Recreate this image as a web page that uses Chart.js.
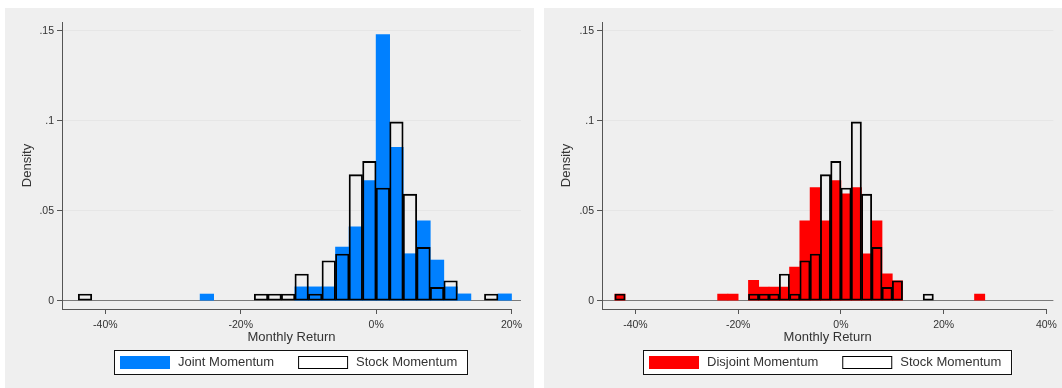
<!DOCTYPE html>
<html>
<head>
<meta charset="utf-8">
<script src="https://cdn.jsdelivr.net/npm/chart.js@4/dist/chart.umd.min.js"></script>
<style>
  html, body { margin: 0; padding: 0; background: #fff; }
  body { width: 1062px; height: 388px; position: relative; overflow: hidden; }
  .panel { position: absolute; top: 8px; height: 380px; background: #efefef; }
  #leftPanel { left: 5px; width: 529px; }
  #rightPanel { left: 544px; width: 518px; }
</style>
</head>
<body>
<div class="panel" id="leftPanel"><canvas id="chartJoint"></canvas></div>
<div class="panel" id="rightPanel"><canvas id="chartDisjoint"></canvas></div>
<script>
// 2% monthly-return bins, keyed by bin midpoint (%)
const binMids = [-43, -41, -39, -37, -35, -33, -31, -29, -27, -25, -23, -21, -19, -17, -15, -13, -11, -9,
                 -7, -5, -3, -1, 1, 3, 5, 7, 9, 11, 13, 15, 17, 19, 21, 23, 25, 27];

const jointDensity = [0, 0, 0, 0, 0, 0, 0, 0, 0, 0.0037, 0, 0, 0, 0, 0, 0, 0.0077, 0.0077,
                      0.0077, 0.0298, 0.0410, 0.0667, 0.1478, 0.0852, 0.0261, 0.0444, 0.0226, 0.0077, 0.0038, 0, 0, 0.0038, 0, 0, 0, 0];

const disjointDensity = [0.0037, 0, 0, 0, 0, 0, 0, 0, 0, 0, 0.0037, 0.0037, 0, 0.0113, 0.0076, 0.0076, 0.0076, 0.0187,
                         0.0444, 0.0628, 0.0444, 0.0667, 0.0593, 0.0628, 0.0261, 0.0444, 0.0150, 0.0111, 0, 0, 0, 0, 0, 0, 0, 0.0037];

const stockDensity = [0.0037, 0, 0, 0, 0, 0, 0, 0, 0, 0, 0, 0, 0, 0.0037, 0.0037, 0.0037, 0.0148, 0.0037,
                      0.0222, 0.0259, 0.0700, 0.0774, 0.0626, 0.0993, 0.0592, 0.0296, 0.0074, 0.0111, 0, 0, 0.0037, 0, 0, 0, 0, 0];

const xTickValues = [-40, -20, 0, 20, 40];
const xTickLabels = ['-40%', '-20%', '0%', '20%', '40%'];
const yTickValues = [0, 0.05, 0.1, 0.15];
const yTickLabels = ['0', '.05', '.1', '.15'];

const FONT = '"Liberation Sans", Arial, Helvetica, sans-serif';
const TEXT = '#333';
const AXIS = '#555';

function toPoints(values) {
  return binMids.map((m, i) => ({ x: m, y: values[i] ? values[i] : null }));
}

// x axis line only runs as far as the last labelled tick
const axisLine = {
  id: 'axisLine',
  afterDraw(chart) {
    const { ctx, chartArea } = chart;
    const xs = chart.scales.x;
    const last = xs.ticks[xs.ticks.length - 1].value;
    const y = Math.round(chartArea.bottom) + 0.5;
    ctx.save();
    ctx.strokeStyle = AXIS;
    ctx.lineWidth = 1;
    ctx.beginPath();
    ctx.moveTo(chartArea.left, y);
    ctx.lineTo(xs.getPixelForValue(last) + 0.5, y);
    ctx.stroke();
    ctx.restore();
  }
};

// framed legend under the axis title
const boxedLegend = {
  id: 'boxedLegend',
  afterDraw(chart) {
    const { ctx, chartArea } = chart;
    const top = Math.round(chart.scales.x.bottom);
    const items = chart.data.datasets.map(ds => ({
      text: ds.label,
      fill: ds.backgroundColor === 'transparent' ? '#fff' : ds.backgroundColor,
      stroke: ds.borderWidth ? '#000' : null
    }));
    ctx.save();
    ctx.font = '13px ' + FONT;
    const sw = 50, sh = 13, gapText = 8, gapItem = 24, padL = 6, padR = 11;
    const widths = items.map(it => ctx.measureText(it.text).width);
    let total = padL + padR + gapItem * (items.length - 1);
    widths.forEach(w => { total += sw + gapText + w; });
    const cx = (chartArea.left + chartArea.right) / 2;
    const left = Math.round(cx - total / 2);
    ctx.fillStyle = '#fff';
    ctx.fillRect(left, top, total, 25);
    ctx.strokeStyle = '#111';
    ctx.lineWidth = 1;
    ctx.strokeRect(left + 0.5, top + 0.5, Math.round(total) - 1, 24);
    let x = left + padL;
    items.forEach((it, i) => {
      ctx.fillStyle = it.fill;
      ctx.fillRect(x, top + 6, sw, sh);
      if (it.stroke) {
        ctx.strokeStyle = it.stroke;
        ctx.strokeRect(x + 0.5, top + 6.5, sw - 1, sh - 1);
      }
      x += sw + gapText;
      ctx.fillStyle = TEXT;
      ctx.textBaseline = 'middle';
      ctx.textAlign = 'left';
      ctx.fillText(it.text, x, top + 6 + sh / 2);
      x += widths[i] + gapItem;
    });
    ctx.restore();
  }
};

function makeChart(id, cfg) {
  new Chart(document.getElementById(id), {
    type: 'bar',
    data: {
      datasets: [
        {
          label: cfg.label,
          data: toPoints(cfg.values),
          backgroundColor: cfg.color,
          borderWidth: 0,
          grouped: false,
          order: 2,
          categoryPercentage: 1,
          barPercentage: 1
        },
        {
          label: 'Stock Momentum',
          data: toPoints(stockDensity),
          backgroundColor: 'transparent',
          borderColor: '#000',
          borderWidth: 1.2,
          borderSkipped: false,
          grouped: false,
          order: 1,
          categoryPercentage: 1,
          barPercentage: 1
        }
      ]
    },
    options: {
      responsive: true,
      maintainAspectRatio: false,
      animation: false,
      layout: { padding: { top: 14, left: 0, right: cfg.padRight, bottom: 38 } },
      plugins: { legend: { display: false }, tooltip: { enabled: false } },
      scales: {
        x: {
          type: 'linear',
          offset: false,
          min: cfg.xMin,
          max: cfg.xMax,
          afterBuildTicks: s => { s.ticks = xTickValues.filter(v => v >= cfg.xMin && v <= cfg.xMax).map(v => ({ value: v })); },
          afterFit: s => { s.height = 41; },
          border: { display: false },
          grid: { offset: false, drawOnChartArea: false, drawTicks: true, tickLength: 5, tickColor: AXIS },
          ticks: {
            autoSkip: false, maxRotation: 0, padding: 5, color: TEXT,
            font: { family: FONT, size: 10.5 },
            callback: v => xTickLabels[xTickValues.indexOf(v)]
          },
          title: {
            display: true, text: 'Monthly Return', color: TEXT,
            font: { family: FONT, size: 13 }, padding: { top: 0, bottom: 4.5 }
          }
        },
        y: {
          min: -0.0046,
          max: 0.1548,
          afterBuildTicks: s => { s.ticks = yTickValues.map(v => ({ value: v })); },
          afterFit: s => { s.width = cfg.yWidth; },
          border: { display: true, color: AXIS, width: 1 },
          grid: {
            color: c => (c.tick && c.tick.value === 0 ? '#7a7a7a' : '#e6e6e6'),
            lineWidth: 1,
            tickLength: 5,
            tickColor: AXIS
          },
          ticks: {
            padding: 3, color: TEXT,
            font: { family: FONT, size: 10.5 },
            callback: v => yTickLabels[yTickValues.indexOf(v)]
          },
          title: {
            display: true, text: 'Density', color: TEXT,
            font: { family: FONT, size: 13 }, padding: { top: 15, bottom: 0 }
          }
        }
      }
    },
    plugins: [axisLine, boxedLegend]
  });
}

makeChart('chartJoint', {
  label: 'Joint Momentum', values: jointDensity, color: '#0080ff',
  xMin: -46.4, xMax: 21.4, yWidth: 57, padRight: 13
});

makeChart('chartDisjoint', {
  label: 'Disjoint Momentum', values: disjointDensity, color: '#ff0000',
  xMin: -46.5, xMax: 41.35, yWidth: 58, padRight: 3
});
</script>
</body>
</html>
